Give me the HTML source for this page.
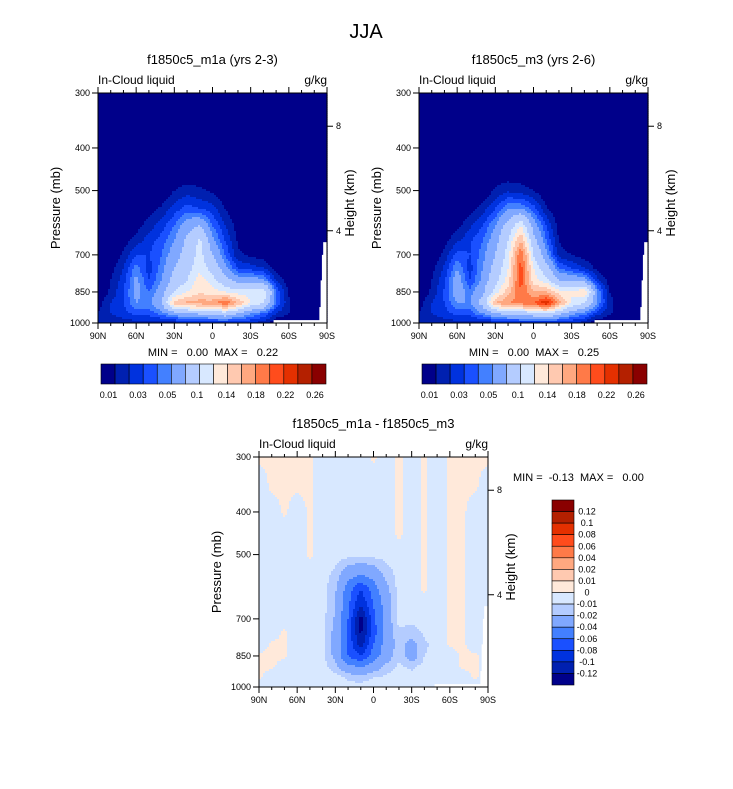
<!DOCTYPE html>
<html><head><meta charset="utf-8">
<style>
html,body{margin:0;padding:0;background:#fff;}
body{width:733px;height:784px;overflow:hidden;font-family:"Liberation Sans",sans-serif;}
svg text{font-family:"Liberation Sans",sans-serif;fill:#000;white-space:pre;}
</style></head>
<body>
<svg id="fig" width="733" height="784" viewBox="0 0 733 784" xmlns="http://www.w3.org/2000/svg">
<text x="366" y="38" font-size="20" text-anchor="middle">JJA</text>
</svg>
<script>
// ---- data ----
const lats = [90,80,70,60,50,40,30,20,10,0,-10,-20,-30,-40,-50,-60,-70,-80,-90];
const pres = [300,350,400,450,500,550,600,650,700,750,800,850,900,950,1000];
const fieldM1a = [
[0,0,0,0,0,0,0,0,0,0,0,0,0,0,0,0,0,0,0],
[0,0,0,0,0,0,0,0,0,0,0,0,0,0,0,0,0,0,0],
[0,0,0,0,0,0,0,0,0,0,0,0,0,0,0,0,0,0,0],
[0,0,0,0,0,0,0,0,0,0,0,0,0,0,0,0,0,0,0],
[0,0,0,0,0,0,0.01,0.015,0.012,0.008,0,0,0,0,0,0,0,0,0],
[0,0,0,0,0.005,0.012,0.025,0.035,0.03,0.025,0.01,0,0,0,0,0,0,0,0],
[0,0,0,0.005,0.015,0.025,0.04,0.06,0.07,0.04,0.02,0.005,0,0,0,0,0,0,0],
[0,0,0.005,0.015,0.025,0.035,0.05,0.075,0.105,0.055,0.03,0.008,0,0,0,0,0,0,0],
[0,0,0.012,0.03,0.03,0.04,0.06,0.08,0.11,0.07,0.04,0.012,0.008,0.004,0,0,0,0,0],
[0,0.005,0.02,0.045,0.025,0.045,0.07,0.09,0.115,0.09,0.055,0.03,0.025,0.02,0.005,0,0,0,0],
[0,0.01,0.025,0.055,0.03,0.05,0.08,0.10,0.13,0.11,0.08,0.06,0.06,0.055,0.02,0.003,0,0,0],
[0,0.012,0.03,0.055,0.04,0.06,0.10,0.12,0.135,0.13,0.12,0.11,0.11,0.12,0.04,0.008,0,0,0],
[0.005,0.02,0.03,0.05,0.045,0.07,0.15,0.165,0.17,0.17,0.2,0.16,0.12,0.1,0.04,0.012,0,0,0],
[0.01,0.02,0.025,0.035,0.035,0.045,0.06,0.07,0.075,0.08,0.09,0.07,0.05,0.04,0.02,0.01,0,0,0],
[0.01,0.015,0.015,0.015,0.015,0.015,0.015,0.02,0.02,0.02,0.02,0.02,0.02,0.015,0,0,0,0,0]
];
const fieldM3 = [
[0,0,0,0,0,0,0,0,0,0,0,0,0,0,0,0,0,0,0],
[0,0,0,0,0,0,0,0,0,0,0,0,0,0,0,0,0,0,0],
[0,0,0,0,0,0,0,0,0,0,0,0,0,0,0,0,0,0,0],
[0,0,0,0,0,0,0,0,0,0,0,0,0,0,0,0,0,0,0],
[0,0,0,0,0,0,0.012,0.018,0.015,0.01,0,0,0,0,0,0,0,0,0],
[0,0,0,0,0.005,0.015,0.03,0.05,0.05,0.035,0.012,0,0,0,0,0,0,0,0],
[0,0,0,0.006,0.018,0.03,0.05,0.08,0.12,0.06,0.03,0.005,0,0,0,0,0,0,0],
[0,0,0.006,0.018,0.028,0.04,0.06,0.1,0.16,0.08,0.04,0.01,0,0,0,0,0,0,0],
[0,0,0.014,0.035,0.03,0.045,0.07,0.11,0.2,0.1,0.055,0.015,0.01,0.005,0,0,0,0,0],
[0,0.006,0.022,0.05,0.025,0.05,0.08,0.12,0.21,0.12,0.08,0.04,0.03,0.02,0.006,0,0,0,0],
[0,0.01,0.028,0.06,0.03,0.055,0.09,0.13,0.21,0.13,0.11,0.07,0.065,0.06,0.025,0.004,0,0,0],
[0,0.012,0.032,0.06,0.045,0.065,0.11,0.15,0.2,0.16,0.16,0.13,0.12,0.14,0.05,0.01,0,0,0],
[0.005,0.02,0.03,0.05,0.05,0.08,0.16,0.18,0.19,0.2,0.24,0.17,0.12,0.1,0.05,0.015,0,0,0],
[0.01,0.02,0.025,0.035,0.035,0.05,0.07,0.08,0.085,0.09,0.1,0.08,0.055,0.045,0.025,0.012,0,0,0],
[0.01,0.015,0.015,0.015,0.015,0.015,0.015,0.02,0.02,0.02,0.02,0.02,0.02,0.015,0,0,0,0,0]
];
const n=-0.006, q=0.002;
const fieldDiff = [
[q,q,q,q,q,n,n,n,n,q,n,q,n,q,n,q,q,q,q],
[n,q,q,q,q,n,n,n,n,n,n,q,n,q,n,q,q,q,n],
[n,n,q,n,q,n,n,n,n,n,n,q,n,q,n,q,q,n,n],
[n,n,n,n,q,n,n,n,n,n,n,q,n,q,n,q,q,n,n],
[n,n,n,n,q,n,n,n,-0.008,-0.006,n,n,n,q,n,q,q,n,n],
[n,n,n,n,n,n,-0.012,-0.03,-0.035,-0.03,-0.015,n,n,q,n,q,q,n,n],
[n,n,n,n,n,n,-0.018,-0.05,-0.08,-0.05,-0.025,n,n,q,n,q,q,n,n],
[n,n,n,n,n,n,-0.02,-0.055,-0.1,-0.06,-0.03,n,n,n,n,q,q,n,n],
[n,n,n,n,n,n,-0.022,-0.06,-0.13,-0.065,-0.03,-0.006,n,n,n,q,q,n,n],
[n,n,q,n,n,n,-0.025,-0.065,-0.125,-0.07,-0.03,-0.012,-0.015,-0.008,n,q,q,n,n],
[n,q,q,n,n,n,-0.025,-0.065,-0.11,-0.06,-0.03,-0.015,-0.025,-0.012,n,q,q,n,n],
[q,q,q,n,n,n,-0.025,-0.06,-0.08,-0.05,-0.03,-0.012,-0.03,-0.01,n,n,q,q,n],
[q,q,n,n,n,n,-0.015,-0.035,-0.04,-0.03,-0.015,-0.008,-0.012,-0.006,n,n,q,q,n],
[q,n,n,n,n,n,-0.006,-0.012,-0.015,-0.01,-0.008,n,-0.006,n,n,n,n,q,n],
[n,n,n,n,n,n,n,n,n,n,n,n,n,n,n,n,n,n,n]
];
const levelsAbs = [0.01,0.02,0.03,0.04,0.05,0.07,0.1,0.12,0.14,0.16,0.18,0.2,0.22,0.24,0.26];
const levelsDiff = [-0.12,-0.1,-0.08,-0.06,-0.04,-0.02,-0.01,0,0.01,0.02,0.04,0.06,0.08,0.1,0.12];
const absTickLabels = ["0.01","0.03","0.05","0.1","0.14","0.18","0.22","0.26"];
const diffTickLabels = ["0.12","0.1","0.08","0.06","0.04","0.02","0.01","0","-0.01","-0.02","-0.04","-0.06","-0.08","-0.1","-0.12"];
const palette = ["#00008a","#0020b0","#0032de","#1a50ff","#4380ff","#80a8ff","#b4ccff","#d8e8ff","#ffe9da","#ffc9b0","#ffa880","#ff7a48","#ff4c1c","#e43000","#b42000","#8a0000"];
const pTicks = [300,400,500,700,850,1000];
const latTicks = [90,60,30,0,-30,-60,-90];
const latTickLabels = ["90N","60N","30N","0","30S","60S","90S"];
const kmTicks = [8,4];
const kmTickPres = [357,617];
const missingLat = [-48,-84,-85,-86,-87];
const missingTop = [985,920,800,700,655];

const svg = document.getElementById('fig');
const NS = "http://www.w3.org/2000/svg";
function mk(tag, attrs, parent){const e=document.createElementNS(NS,tag);for(const k in attrs)e.setAttribute(k,attrs[k]);(parent||svg).appendChild(e);return e;}

function interp(f, lat, p){
  let i=0; while(i<lats.length-2 && lat<lats[i+1]) i++;
  let tx=(lats[i]-lat)/(lats[i]-lats[i+1]); tx=Math.max(0,Math.min(1,tx));
  let j=0; while(j<pres.length-2 && p>pres[j+1]) j++;
  let ty=(p-pres[j])/(pres[j+1]-pres[j]); ty=Math.max(0,Math.min(1,ty));
  const a=f[j][i],b=f[j][i+1],c=f[j+1][i],d=f[j+1][i+1];
  return (a*(1-tx)+b*tx)*(1-ty)+(c*(1-tx)+d*tx)*ty;
}
function level(v, lv){let k=0; while(k<lv.length && v>=lv[k]) k++; return k;}

function panel(name, x0, y0, field, lv, title){
  const W=229, H=230;
  const g=mk('g',{});
  
  
  const X = lat => x0 + (90-lat)/180*W;
  const Y = p => y0 + H - Math.log(1000/p)/Math.log(1000/300)*H;
  const plot=mk('g',{},g);
  
  
  const cs=2;
  for(let yy=0; yy<H; yy+=cs){
    const p = 1000*Math.pow(300/1000, (H-(yy+cs/2))/H);
    let runStart=0, runCol=null;
    for(let xx=0; ; xx+=cs){
      const end = xx>=W;
      let col=null;
      if(!end){const lat=90-(xx+cs/2)/W*180; col=palette[level(interp(field,lat,p),lv)];}
      if(col!==runCol){
        if(runCol!==null){
          const r=mk('rect',{x:x0+runStart,y:y0+yy,width:Math.min(xx,W)-runStart+0.6,height:Math.min(cs+0.6,H-yy),fill:runCol},plot);
          
          
        }
        runStart=xx; runCol=col;
      }
      if(end) break;
    }
  }
  for(let k=0;k<missingLat.length;k++){
    const xa=X(missingLat[k]), xb=x0+W;
    const yt=Y(missingTop[k]);
    const r=mk('rect',{x:xa,y:yt,width:xb-xa,height:y0+H-yt,fill:'#fff'},g);
    
    
  }
  const fr=mk('rect',{x:x0,y:y0,width:W,height:H,fill:'none',stroke:'#000','stroke-width':1},g);
  
  
  for(let l=90;l>=-90;l-=10){
    const major = l%30===0, len=major?6:3, x=X(l);
    mk('line',{x1:x,y1:y0+H,x2:x,y2:y0+H+len,stroke:'#000'},g);
    mk('line',{x1:x,y1:y0,x2:x,y2:y0-len,stroke:'#000'},g);
  }
  latTicks.forEach((l,i)=>{
    const t=mk('text',{x:X(l),y:y0+H+16,'font-size':9,'text-anchor':'middle'},g); t.textContent=latTickLabels[i];
    
    
  });
  pTicks.forEach(p=>{
    const y=Y(p);
    mk('line',{x1:x0,y1:y,x2:x0-6,y2:y,stroke:'#000'},g);
    const t=mk('text',{x:x0-8,y:y+3,'font-size':9,'text-anchor':'end'},g); t.textContent=p;
    
    
  });
  kmTicks.forEach((k,i)=>{
    const y=Y(kmTickPres[i]);
    mk('line',{x1:x0+W,y1:y,x2:x0+W+6,y2:y,stroke:'#000'},g);
    const t=mk('text',{x:x0+W+9,y:y+3,'font-size':9},g); t.textContent=k;
    
    
  });
  let t=mk('text',{x:x0+W/2,y:y0-29,'font-size':13,'text-anchor':'middle'},g); t.textContent=title;
  
  
  t=mk('text',{x:x0,y:y0-9,'font-size':12},g); t.textContent='In-Cloud liquid';
  
  
  t=mk('text',{x:x0+W,y:y0-9,'font-size':12,'text-anchor':'end'},g); t.textContent='g/kg';
  
  
  t=mk('text',{x:0,y:0,'font-size':13,'text-anchor':'middle',transform:`translate(${x0-38},${y0+H/2}) rotate(-90)`},g); t.textContent='Pressure (mb)';
  
  
  t=mk('text',{x:0,y:0,'font-size':13,'text-anchor':'middle',transform:`translate(${x0+W+27},${y0+H/2-5}) rotate(-90)`},g); t.textContent='Height (km)';
  
  
  return g;
}

function hbar(x0,y0){
  const W=225,H=20,bw=W/16;
  const g=mk('g',{});
  
  
  palette.forEach((c,i)=>{
    const r=mk('rect',{x:x0+i*bw,y:y0,width:bw,height:H,fill:c,stroke:'#000','stroke-width':0.6},g);
    
    
  });
  absTickLabels.forEach((s,i)=>{
    const t=mk('text',{x:x0+7.5+i*29.5,y:y0+H+14,'font-size':9,'text-anchor':'middle'},g); t.textContent=s;
    
    
  });
}
function minmaxText(x,y,s,anchor){
  const t=mk('text',{x:x,y:y,'font-size':11,'text-anchor':anchor||'middle'}); t.textContent=s;
  
  
}

panel('panel-m1a', 98, 93, fieldM1a, levelsAbs, 'f1850c5_m1a (yrs 2-3)');
panel('panel-m3', 419, 93, fieldM3, levelsAbs, 'f1850c5_m3 (yrs 2-6)');
panel('panel-diff', 259, 457, fieldDiff, levelsDiff, 'f1850c5_m1a - f1850c5_m3');
minmaxText(213,356,'MIN =   0.00  MAX =   0.22');
minmaxText(534,356,'MIN =   0.00  MAX =   0.25');
minmaxText(513,481,'MIN =  -0.13  MAX =   0.00','start');
hbar(101,364);
hbar(422,364);
(function(){
  const x0=552,y0=500,W=22,H=185,bh=H/16;
  const g=mk('g',{});
  
  
  palette.slice().reverse().forEach((c,i)=>{
    const r=mk('rect',{x:x0,y:y0+i*bh,width:W,height:bh,fill:c,stroke:'#000','stroke-width':0.6},g);
    
    
  });
  diffTickLabels.forEach((s,i)=>{
    const t=mk('text',{x:x0+W+13,y:y0+(i+1)*bh+3,'font-size':9,'text-anchor':'middle'},g); t.textContent=s;
    
    
  });
})();
</script>
</body></html>
